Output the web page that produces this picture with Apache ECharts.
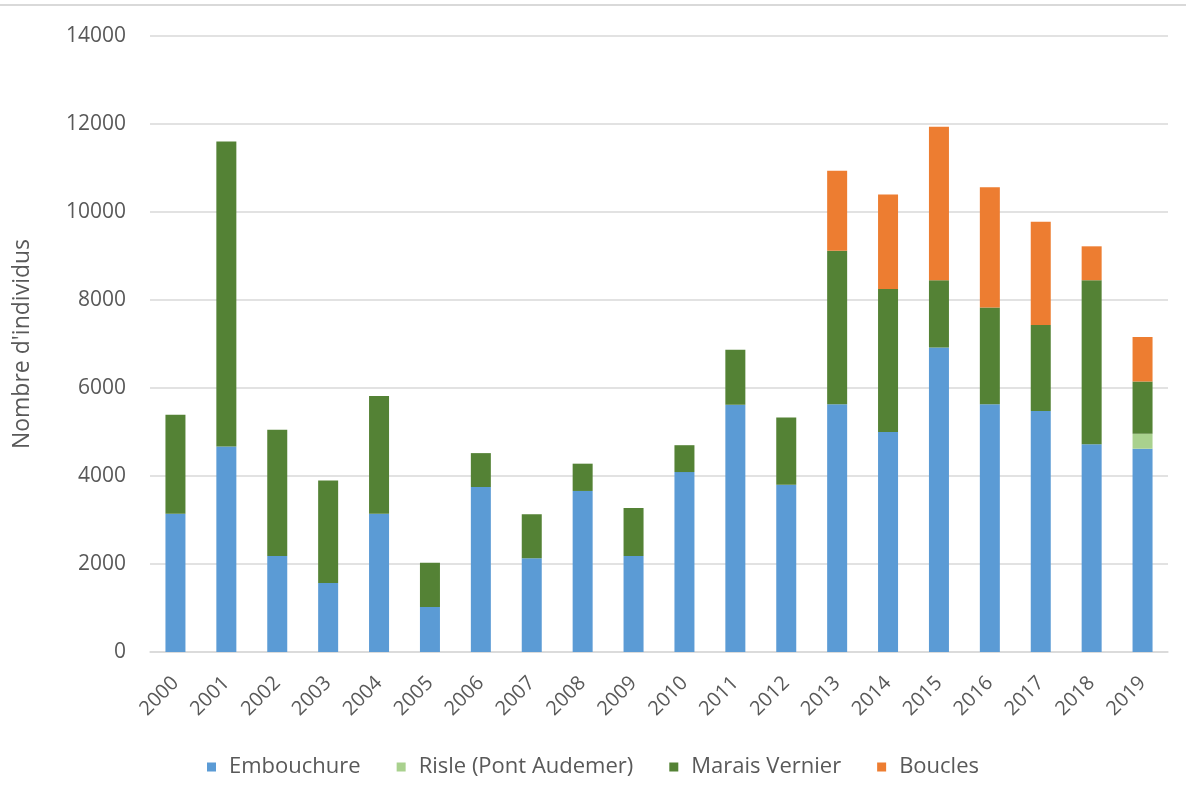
<!DOCTYPE html>
<html>
<head>
<meta charset="utf-8">
<script src="https://cdn.jsdelivr.net/npm/echarts@6/dist/echarts.min.js"></script>
<style>
html,body{margin:0;padding:0;background:#fff;}
#c{width:1186px;height:805px;}
</style>
</head>
<body>
<div id="c"></div>
<script>
const years = ['2000','2001','2002','2003','2004','2005','2006','2007','2008','2009','2010','2011','2012','2013','2014','2015','2016','2017','2018','2019'];
const embouchure = [3140,4670,2180,1570,3140,1020,3750,2130,3660,2180,4090,5620,3800,5630,5000,6920,5630,5480,4720,4620];
const risle = [0,0,0,0,0,0,0,0,0,0,0,0,0,0,0,0,0,0,0,340];
const maraisVernier = [2250,6930,2870,2330,2680,1010,770,1000,620,1090,610,1250,1530,3490,3250,1530,2200,1950,3730,1190];
const boucles = [0,0,0,0,0,0,0,0,0,0,0,0,0,1820,2150,3490,2730,2350,770,1010];
const yTicks = [0,2000,4000,6000,8000,10000,12000,14000];

const chart = echarts.init(document.getElementById('c'));
const font = '"Open Sans", sans-serif';
function s(name, data, color){
  return {name, type:'bar', stack:'total', data: data.map(v=>v===0?null:v), barWidth:20,
    itemStyle:{color}, emphasis:{disabled:true}};
}
chart.setOption({
  animation:false,
  textStyle:{fontFamily:font},
  graphic:[{type:'line', shape:{x1:0,y1:5,x2:1186,y2:5}, style:{stroke:'#d9d9d9', lineWidth:2}}],
  grid:{left:150, right:18, top:36, bottom:153},
  legend:{bottom:22, left:'center', itemWidth:9, itemHeight:9, itemGap:36,
    icon:'rect', textStyle:{color:'#595959', fontSize:22, fontFamily:font, padding:[0,0,0,8]},
    data:['Embouchure','Risle (Pont Audemer)','Marais Vernier','Boucles']},
  xAxis:{type:'category', data:years,
    axisLine:{lineStyle:{color:'#d9d9d9', width:1.5}}, axisTick:{show:false},
    axisLabel:{rotate:45, color:'#595959', fontSize:20, fontFamily:font, margin:28, interval:0}},
  yAxis:{type:'value', min:0, max:yTicks[yTicks.length-1], interval:2000,
    name:"Nombre d'individus", nameLocation:'middle', nameGap:116, nameRotate:90,
    nameTextStyle:{color:'#595959', fontSize:23, fontFamily:font},
    axisLabel:{color:'#595959', fontSize:21, fontFamily:font, margin:24, formatter:v=>String(v)},
    splitLine:{lineStyle:{color:'#d9d9d9', width:1.5}}, axisLine:{show:false}, axisTick:{show:false}},
  series:[
    s('Embouchure', embouchure, '#5B9BD5'),
    s('Risle (Pont Audemer)', risle, '#A9D18E'),
    s('Marais Vernier', maraisVernier, '#548235'),
    s('Boucles', boucles, '#ED7D31')
  ]
});
</script>
</body>
</html>
